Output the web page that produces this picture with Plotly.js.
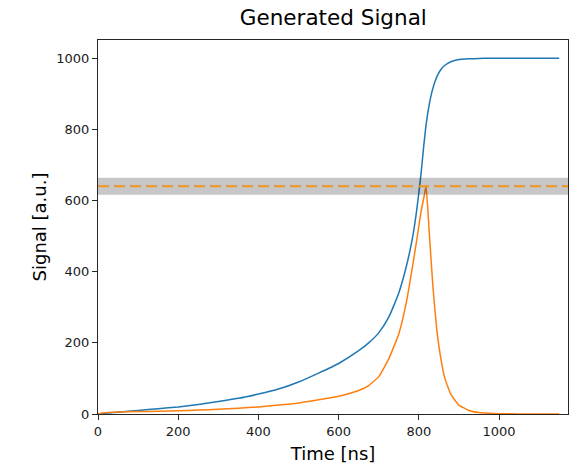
<!DOCTYPE html>
<html>
<head>
<meta charset="utf-8">
<script src="https://cdn.plot.ly/plotly-3.0.1.min.js"></script>
<style>html,body{margin:0;padding:0;background:#fff;}#chart{width:577px;height:465px;}</style>
</head>
<body>
<div id="chart"></div>
<script>
// Time axis (ns)
const timeNs = [0, 10, 25, 50, 100, 150, 200, 250, 300, 350, 400, 450, 500, 550, 600, 650, 675, 700, 725, 750, 770, 785, 795, 805, 812, 818, 826, 835, 845, 855, 865, 880, 900, 925, 950, 975, 1000, 1050, 1100, 1150];
// Generated signal (blue)
const signalValues = [0, 1, 3, 5, 10, 15, 20, 27, 35, 44, 56, 70, 90, 115, 142, 178, 200, 228, 272, 340, 420, 500, 575, 670, 750, 812, 870, 915, 948, 968, 980, 990, 996, 998, 999, 1000, 1000, 1000, 1000, 1000];
// Derived pulse (orange)
const pulseValues = [0, 3, 4.5, 5.5, 7, 7.5, 9, 11, 13, 16, 20, 25, 31, 40, 50, 66, 80, 105, 155, 225, 320, 420, 490, 565, 605, 640, 510, 360, 235, 155, 100, 55, 25, 10, 4, 2, 1, 0.3, 0.1, 0];
// Threshold line and band
const thresholdValue = 640;
const bandLower = 616;
const bandUpper = 664;
const xTicks = [0, 200, 400, 600, 800, 1000];
const yTicks = [0, 200, 400, 600, 800, 1000];

const font = "DejaVu Sans, sans-serif";

const traces = [
  {x: timeNs, y: signalValues, type: 'scatter', mode: 'lines',
   line: {color: '#1f77b4', width: 1.5, shape: 'spline', smoothing: 0.5}, hoverinfo: 'skip'},
  {x: timeNs, y: pulseValues, type: 'scatter', mode: 'lines',
   line: {color: '#ff7f0e', width: 1.5, shape: 'spline', smoothing: 0.4}, hoverinfo: 'skip'}
];

const axisCommon = {
  showline: true, mirror: true, linecolor: '#262626', linewidth: 1,
  ticks: 'outside', ticklen: 5, tickwidth: 1, tickcolor: '#262626',
  showgrid: false, zeroline: false,
  tickfont: {family: font, size: 13, color: '#1a1a1a'}
};

const layout = {
  width: 577, height: 465,
  margin: {l: 98, r: 9, t: 40, b: 51},
  paper_bgcolor: '#ffffff', plot_bgcolor: '#ffffff',
  showlegend: false,
  title: {text: 'Generated Signal', font: {family: font, size: 21.5, color: '#000'},
          x: 0.5777, xanchor: 'center', y: 0.963, yanchor: 'middle'},
  xaxis: Object.assign({}, axisCommon, {
    range: [0, 1172], tickvals: xTicks, ticktext: xTicks.map(String),
    title: {text: 'Time [ns]', font: {family: font, size: 18, color: '#000'}, standoff: 9}
  }),
  yaxis: Object.assign({}, axisCommon, {
    range: [0, 1051], tickvals: yTicks, ticktext: yTicks.map(String),
    title: {text: 'Signal [a.u.]', font: {family: font, size: 18, color: '#000'}, standoff: 5}
  }),
  shapes: [
    {type: 'rect', xref: 'paper', yref: 'y', x0: 0, x1: 1, y0: bandLower, y1: bandUpper,
     fillcolor: 'rgba(0,0,0,0.22)', line: {width: 0}, layer: 'above'},
    {type: 'line', xref: 'paper', yref: 'y', x0: 0, x1: 1, y0: thresholdValue, y1: thresholdValue,
     line: {color: '#f0961e', width: 2, dash: '11px,5px'}, layer: 'above'}
  ]
};

Plotly.newPlot('chart', traces, layout, {displayModeBar: false, staticPlot: true});
</script>
</body>
</html>
